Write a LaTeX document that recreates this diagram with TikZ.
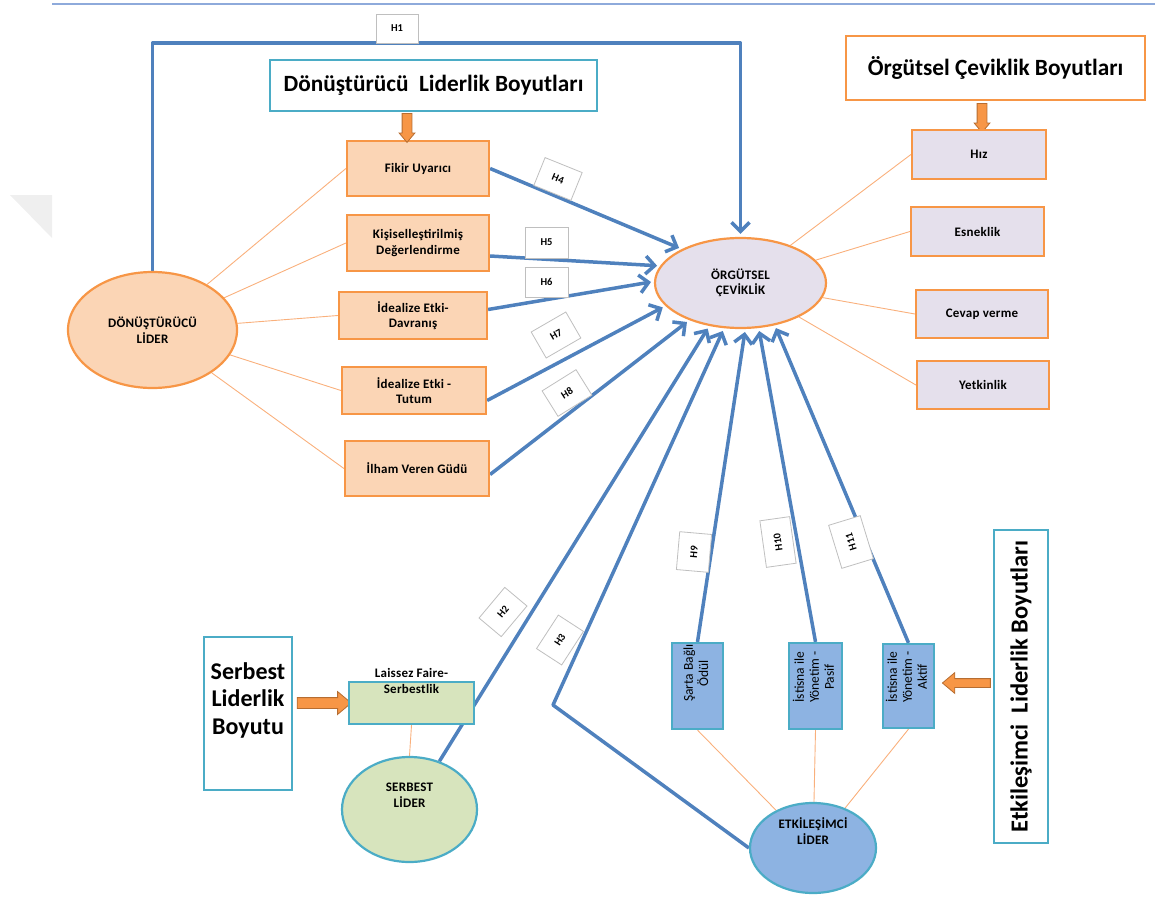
\documentclass[tikz,border=0pt]{standalone}
\usepackage{fontspec}
\setmainfont{Carlito}
\usetikzlibrary{shapes.geometric,shapes.arrows,arrows.meta}

\definecolor{hypblue}{HTML}{4F81BD}
\definecolor{orangeb}{HTML}{F79646}
\definecolor{peach}{HTML}{FBD5B5}
\definecolor{lav}{HTML}{E5E0EC}
\definecolor{cyanb}{HTML}{4BACC6}
\definecolor{greenf}{HTML}{D7E4BD}
\definecolor{bluef}{HTML}{8DB3E2}
\definecolor{thinor}{HTML}{F9B07C}
\definecolor{labgray}{HTML}{BFBFBF}
\definecolor{arrowedge}{HTML}{B66D31}
\definecolor{rulecol}{HTML}{8EAADB}
\definecolor{wmark}{HTML}{EFEFEF}

\pgfdeclarelayer{bg}
\pgfsetlayers{bg,main}

\tikzset{
  boxtext/.style={font=\bfseries\fontsize{13}{15.5}\selectfont\addfontfeature{LetterSpace=2}, align=center},
  obox/.style={draw=orangeb, fill=peach, line width=2.2pt, inner sep=0pt, boxtext},
  lbox/.style={draw=orangeb, fill=lav, line width=2.2pt, inner sep=0pt, boxtext},
  cbox/.style={draw=cyanb, fill=white, line width=2.2pt, inner sep=0pt},
  gbox/.style={draw=cyanb, fill=greenf, line width=2.2pt, inner sep=0pt},
  bbox/.style={draw=cyanb, fill=bluef, line width=2.2pt, inner sep=0pt,
    font=\fontsize{13.5}{15}\selectfont},
  oval/.style={ellipse, line width=2.2pt, inner sep=0pt, boxtext},
  hlab/.style={draw=labgray, fill=white, line width=0.8pt, inner sep=0pt,
    font=\bfseries\fontsize{10.5}{12}\selectfont},
  bigtitle/.style={font=\bfseries\fontsize{23.3}{28}\selectfont},
  link/.style={draw=thinor, line width=0.9pt},
  hyp/.style={draw=hypblue, line width=3.5pt, line join=round,
    -{Straight Barb[length=9pt,width=18pt]}, shorten >=3pt},
  blockarrow/.style={single arrow, draw=arrowedge, fill=orangeb, line width=0.8pt,
    single arrow tip angle=80, single arrow head extend=#1, inner sep=0pt},
}

\begin{document}
\begin{tikzpicture}[x=1pt,y=-1pt]
\useasboundingbox (0,0) rectangle (1155,896);

% page rule and corner mark
\draw[rulecol, line width=1.5pt] (52,4) -- (1155,4);
\fill[wmark] (10,195) -- (52,195) -- (52,238) -- cycle;

% ---- transformational leadership block ----
\node[cbox, bigtitle, minimum width=327pt, minimum height=51pt] (title1) at (433.5,85.5)
  {Dönüştürücü\ \ Liderlik Boyutları};
\node[obox, minimum width=142pt, minimum height=55pt] (fikir) at (418,168.5) {Fikir Uyarıcı};
\node[obox, minimum width=142pt, minimum height=56pt] (kisi) at (418,243) {Kişiselleştirilmiş\\Değerlendirme};
\node[obox, minimum width=148pt, minimum height=47pt] (idd) at (413,315.5) {İdealize Etki-\\Davranış};
\node[obox, minimum width=144pt, minimum height=47pt] (idt) at (414,390.5) {İdealize Etki -\\Tutum};
\node[obox, minimum width=144pt, minimum height=55pt] (ilham) at (417,468.5) {İlham Veren Güdü};
\node[oval, draw=orangeb, fill=peach, minimum width=169pt, minimum height=116pt] (dl) at (152.5,330)
  {DÖNÜŞTÜRÜCÜ\\LİDER};
\node[blockarrow=3pt, rotate=-90, minimum height=29pt, inner ysep=4.5pt] (arr1) at (407,125) {};

% ---- organisational agility ----
\node[oval, draw=orangeb, fill=lav, minimum width=171pt, minimum height=90pt] (org) at (740.5,283)
  {ÖRGÜTSEL\\ÇEVİKLİK};
\node[draw=orangeb, fill=white, line width=2.2pt, inner sep=0pt, bigtitle,
  minimum width=299pt, minimum height=64pt] (title2) at (995.5,68) {Örgütsel Çeviklik Boyutları};
\node[blockarrow=3pt, rotate=-90, minimum height=29pt, inner ysep=4.5pt] (arr2) at (982,115) {};
\node[lbox, minimum width=134pt, minimum height=49pt] (hiz) at (979,154.5) {Hız};
\node[lbox, minimum width=133pt, minimum height=49pt] (esnek) at (977.5,231.5) {Esneklik};
\node[lbox, minimum width=132pt, minimum height=48pt] (cevap) at (982,314) {Cevap verme};
\node[lbox, minimum width=132pt, minimum height=48pt] (yetkin) at (983,385) {Yetkinlik};

% ---- laissez-faire leadership ----
\node[cbox, minimum width=88pt, minimum height=153pt] (sbox) at (248,713.5) {};
\node[font=\bfseries\fontsize{24}{27.5}\selectfont, align=center] (stext) at (248,700)
  {Serbest\\Liderlik\\Boyutu};
\node[blockarrow=6pt, minimum height=54pt, inner ysep=5pt] (arr3) at (321,703) {};
\node[gbox, minimum width=125pt, minimum height=42pt] (lf) at (411.5,703) {};
\node[boxtext] (lftext) at (411.5,681) {Laissez Faire-\\Serbestlik};
\node[oval, draw=cyanb, fill=greenf, minimum width=135pt, minimum height=105pt] (sl) at (409.5,809.5) {};
\node[boxtext] (sltext) at (409.5,795) {SERBEST\\LİDER};

% ---- transactional leadership ----
\node[bbox, minimum width=51pt, minimum height=86pt] (sarta) at (697.5,686)
  {\rotatebox{90}{\begin{tabular}{@{\hspace{26pt}}c@{}}Şarta Bağlı\\Ödül\end{tabular}}};
\node[bbox, minimum width=53pt, minimum height=86pt] (pasif) at (815.5,686)
  {\rotatebox{90}{\begin{tabular}{@{\hspace{18pt}}c@{}}İstisna ile\\Yönetim -\\Pasif\end{tabular}}};
\node[bbox, minimum width=51pt, minimum height=84pt] (aktif) at (908.5,686)
  {\rotatebox{90}{\begin{tabular}{@{\hspace{18pt}}c@{}}İstisna ile\\Yönetim -\\Aktif\end{tabular}}};
\node[oval, draw=cyanb, fill=bluef, minimum width=126pt, minimum height=90pt] (el) at (813,848) {};
\node[boxtext] (eltext) at (813,831) {ETKİLEŞİMCİ\\LİDER};
\node[cbox, minimum width=54pt, minimum height=313pt] (tbox) at (1021,686.5)
  {\rotatebox{90}{\bfseries\fontsize{24.5}{28}\selectfont Etkileşimci\ \ Liderlik Boyutları}};
\node[blockarrow=6pt, rotate=180, minimum height=48pt, inner ysep=4pt] (arr4) at (969,683) {};

% ---- hypothesis tags ----
\node[hlab, minimum width=42pt, minimum height=29pt] (h1) at (397,28.5) {H1};
\node[hlab, minimum width=40pt, minimum height=30pt, rotate=-22] (h4) at (558,179) {H4};
\node[hlab, minimum width=43pt, minimum height=31pt] (h5) at (546.5,242.5) {H5};
\node[hlab, minimum width=43pt, minimum height=30pt] (h6) at (546.5,282) {H6};
\node[hlab, minimum width=40pt, minimum height=30pt, rotate=30] (h7) at (556,335) {H7};
\node[hlab, minimum width=40pt, minimum height=30pt, rotate=32] (h8) at (567,393) {H8};
\node[hlab, minimum width=40pt, minimum height=29pt, rotate=50] (h2) at (503,612) {H2};
\node[hlab, minimum width=40pt, minimum height=30pt, rotate=57] (h3) at (560,640) {H3};
\node[hlab, minimum width=38pt, minimum height=32pt, rotate=85] (h9) at (694,552) {H9};
\node[hlab, minimum width=47pt, minimum height=30pt, rotate=98] (h10) at (778,542) {H10};
\node[hlab, minimum width=45pt, minimum height=33pt, rotate=107] (h11) at (851,542) {H11};

\coordinate (h1bend) at (600,43);
\coordinate (h3bend) at (553,705);

\begin{pgfonlayer}{bg}
  % dimension links
  \draw[link] (dl) -- (fikir.west);
  \draw[link] (dl) -- (kisi.west);
  \draw[link] (dl) -- (idd.west);
  \draw[link] (dl) -- (idt.west);
  \draw[link] (dl) -- (ilham.west);
  \draw[link] (org) -- (hiz.west);
  \draw[link] (org) -- (esnek.west);
  \draw[link] (org) -- (cevap.west);
  \draw[link] (org) -- (yetkin.west);
  \draw[link] (lf.south) -- (sl.north);
  \draw[link] (el) -- (sarta.south);
  \draw[link] (el) -- (pasif.south);
  \draw[link] (el) -- (aktif.south);
  % hypothesised effects
  \draw[hyp] (dl.north) |- (h1bend) -| (org.north);
  \draw[hyp] (fikir.east) -- (org.150);
  \draw[hyp] ([yshift=-13pt]kisi.east) -- (org.168);
  \draw[hyp] ([yshift=6pt]idd.east) -- (org.179);
  \draw[hyp] ([yshift=-10pt]idt.east) -- (org.197);
  \draw[hyp] ([yshift=-6pt]ilham.east) -- (org.216);
  \draw[hyp] (sl) -- (org.234);
  \draw[hyp] (el.west) -- (h3bend) -- (org.250);
  \draw[hyp] (sarta.north) -- (org.276);
  \draw[hyp] (pasif.north) -- (org.292);
  \draw[hyp] (aktif.north) -- (org.309);
\end{pgfonlayer}
\end{tikzpicture}
\end{document}
